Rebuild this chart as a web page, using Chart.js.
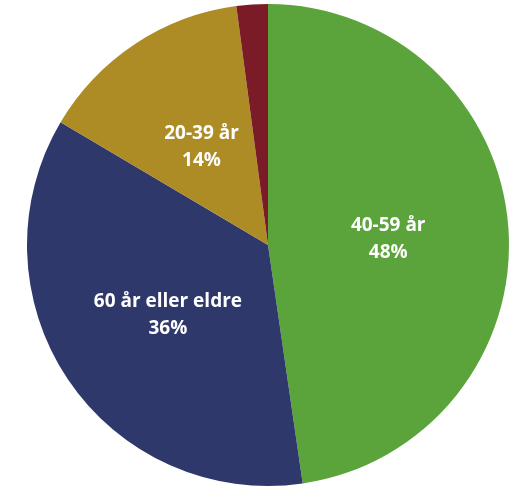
<!DOCTYPE html>
<html>
<head>
<meta charset="utf-8">
<script src="https://cdn.jsdelivr.net/npm/chart.js@4/dist/chart.umd.min.js"></script>
<style>
html,body{margin:0;padding:0;background:#fff;}
canvas{display:block;}
</style>
</head>
<body>
<canvas id="c" width="510" height="489"></canvas>
<script>
const categories = ["40-59 år", "60 år eller eldre", "20-39 år", "Under 20 år"];
const values = [47.7, 35.8, 14.4, 2.1];
const percentLabels = ["48%", "36%", "14%", ""];
const showLabel = [true, true, true, false];
const colors = ["#5BA33B", "#2F386B", "#AE8C25", "#7B1B27"];

const labelPlugin = {
  id: 'sliceLabels',
  afterDatasetsDraw(chart) {
    const ctx = chart.ctx;
    const meta = chart.getDatasetMeta(0);
    ctx.save();
    ctx.fillStyle = '#ffffff';
    ctx.font = 'bold 19px "Open Sans", sans-serif';
    ctx.textAlign = 'center';
    ctx.textBaseline = 'middle';
    meta.data.forEach((arc, i) => {
      if (!showLabel[i]) return;
      const p = arc.tooltipPosition();
      ctx.fillText(categories[i], p.x, p.y - 10.5);
      ctx.fillText(percentLabels[i], p.x, p.y + 16);
    });
    ctx.restore();
  }
};

new Chart(document.getElementById('c'), {
  type: 'pie',
  data: {
    labels: categories,
    datasets: [{
      data: values,
      backgroundColor: colors,
      borderWidth: 0
    }]
  },
  options: {
    responsive: false,
    animation: false,
    devicePixelRatio: 1,
    layout: { padding: { left: 27, right: 1, top: 4, bottom: 3 } },
    plugins: { legend: { display: false }, tooltip: { enabled: false } }
  },
  plugins: [labelPlugin]
});
</script>
</body>
</html>
